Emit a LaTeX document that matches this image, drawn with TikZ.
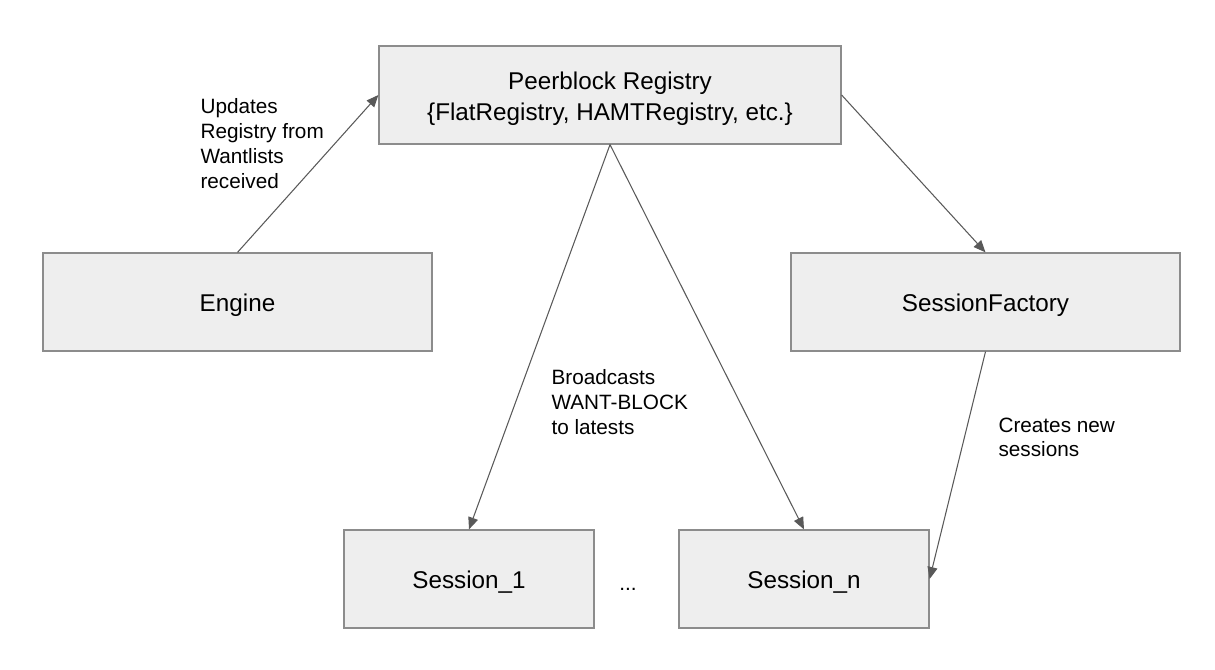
\documentclass[tikz,border=0pt]{standalone}
\usepackage{fontspec}
\setmainfont{Liberation Sans}
\usepackage{tikz}
\usetikzlibrary{arrows,arrows.meta}
\usetikzlibrary{positioning}
\definecolor{boxfill}{HTML}{EEEEEE}
\definecolor{boxline}{HTML}{8C8C8C}
\definecolor{arrline}{HTML}{595959}
\tikzset{box/.style={draw=boxline,fill=boxfill,line width=0.7pt,minimum height=1.96cm,
   align=center,font=\fontsize{13.8}{16.5}\selectfont,inner sep=0pt}}
\tikzset{note/.style={anchor=north west,align=left,inner sep=0pt,
   font=\fontsize{11.8}{14.2}\selectfont}}
\newcommand{\lowtext}[1]{\raisebox{-2pt}[\height][\depth]{#1}}

\begin{document}
\begin{tikzpicture}[->,>={Triangle[length=0.24cm,width=0.2cm]},line width=0.6pt,
                    every edge/.style={draw=arrline}]
   \useasboundingbox (0,0) rectangle (24.3,13.38);

   \node[box,minimum width=9.24cm] (reg) at (12.2,11.48)
      {\raisebox{-2.4pt}[\height][\depth]{\begin{tabular}{@{}c@{}}Peerblock Registry\\[1pt] \{FlatRegistry, HAMTRegistry, etc.\}\end{tabular}}};
   \node[box,minimum width=7.78cm] (engine)  at (4.75,7.34)  {\lowtext{Engine}};
   \node[box,minimum width=7.78cm] (factory) at (19.71,7.34) {\lowtext{SessionFactory}};
   \node[box,minimum width=5cm]    (sess1)   at (9.38,1.8)   {\lowtext{Session\_1}};
   \node[box,minimum width=5cm]    (sessn)   at (16.08,1.8)  {\lowtext{Session\_n}};

   \node[note] (updnote) at (4.0,11.42)
      {Updates\\Registry from\\Wantlists\\received};
   \node[note] (bcnote) at (11.02,6.0)
      {Broadcasts\\WANT-BLOCK\\to latests};
   \node[note] (crnote) at (19.96,5.04)
      {Creates new\\sessions};
   \node[font=\fontsize{11.8}{14.2}\selectfont] (dots) at (12.56,1.6) {...};

   \path
      (engine.north) edge (reg.west)
      (reg.south) edge (sess1.north)
      (reg.south) edge (sessn.north)
      (reg.east) edge (factory.north)
      (factory.south) edge (sessn.east)
   ;
\end{tikzpicture}
\end{document}
